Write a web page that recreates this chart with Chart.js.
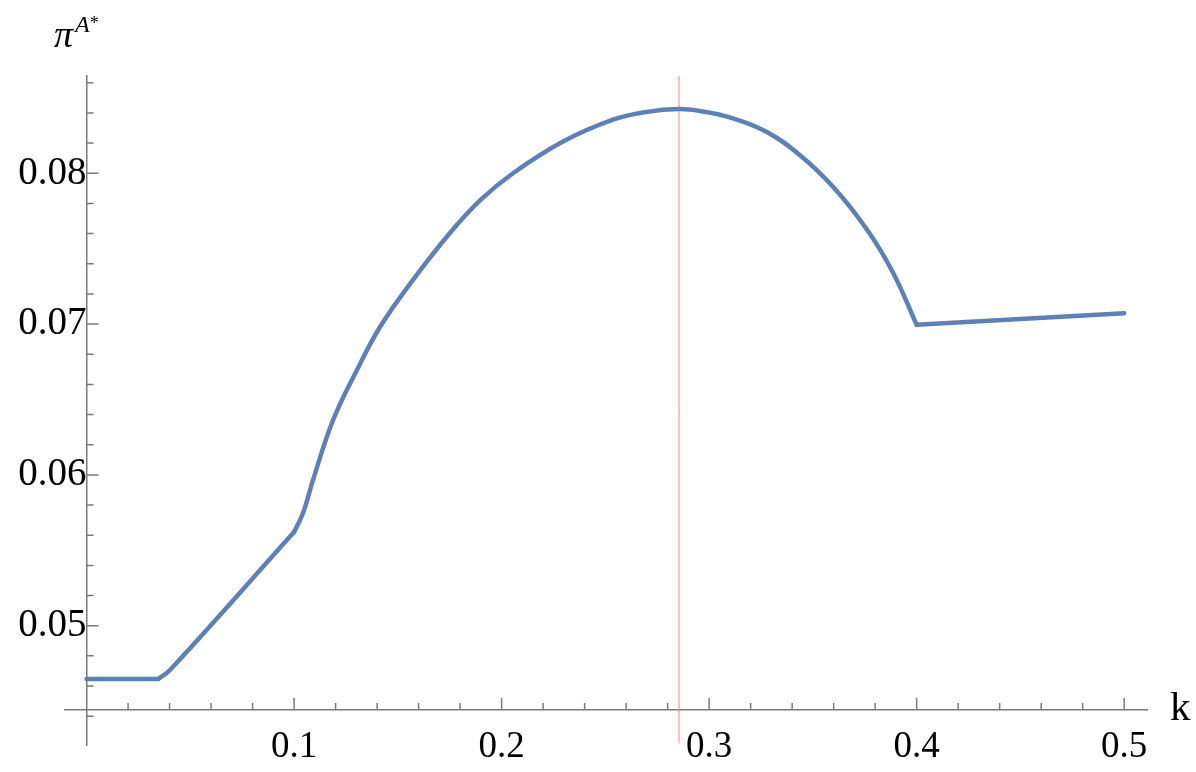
<!DOCTYPE html>
<html>
<head>
<meta charset="utf-8">
<script src="https://cdn.jsdelivr.net/npm/chart.js@4.4.1/dist/chart.umd.min.js"></script>
<style>
  html, body { margin: 0; padding: 0; background: #fff; }
  #wrap { position: relative; width: 1196px; height: 772px; }
  .lbl { position: absolute; font-family: "Liberation Serif", serif; color: #000; white-space: nowrap; }
  #ylab { left: 54px; top: 15px; font-size: 38px; line-height: 38px; font-style: italic; }
  #ylab .up { font-size: 24px; position: relative; top: -15px; margin-left: 2px; }
  #ylab .star { font-style: normal; font-size: 18px; position: relative; top: -3px; }
  #xlab { left: 1170px; top: 682px; font-size: 41px; }
</style>
</head>
<body>
<div id="wrap">
  <canvas id="myChart" width="1196" height="772"></canvas>
  <div class="lbl" id="ylab">π<span class="up">A<span class="star">*</span></span></div>
  <div class="lbl" id="xlab">k</div>
</div>
<script>
// curve
const kValues = [0, 0.0345, 0.0402, 0.1, 0.1043, 0.1092, 0.1188, 0.1303, 0.1414, 0.1573, 0.1751,
  0.1896, 0.2055, 0.2296, 0.2537, 0.2701, 0.2855, 0.2957, 0.31, 0.3278, 0.3438, 0.3598,
  0.3762, 0.3887, 0.4, 0.5];
const piValues = [0.04647, 0.04647, 0.04706, 0.05621, 0.05747, 0.0597, 0.06364, 0.06696, 0.06981, 0.07293, 0.07604,
  0.0782, 0.0800, 0.0821, 0.08355, 0.08407, 0.08426, 0.08413, 0.0837, 0.08274, 0.0812, 0.07909,
  0.07624, 0.07339, 0.06995, 0.07072];
// k values where the curve has a corner
const kinks = [0.0345, 0.1, 0.4];

// red marker line
const markK = [0.2855, 0.2855];
const markPi = [0.0422, 0.0865];

const xTicks = [0.1, 0.2, 0.3, 0.4, 0.5];
const xTickLabels = ["0.1", "0.2", "0.3", "0.4", "0.5"];
const xMinor = [0.02, 0.04, 0.06, 0.08, 0.12, 0.14, 0.16, 0.18, 0.22, 0.24, 0.26, 0.28,
  0.32, 0.34, 0.36, 0.38, 0.42, 0.44, 0.46, 0.48];
const yTicks = [0.05, 0.06, 0.07, 0.08];
const yTickLabels = ["0.05", "0.06", "0.07", "0.08"];
const yMinor = [0.044, 0.046, 0.048, 0.052, 0.054, 0.056, 0.058, 0.062, 0.064, 0.066, 0.068,
  0.072, 0.074, 0.076, 0.078, 0.082, 0.084, 0.086];

const xCross = 0;        // y axis sits at k = 0
const yCross = 0.04441;  // x axis sits here
const axisColor = "#7a7a7a";
const curveColor = "#5e81b5";

// split the curve at its corners so the spline doesn't round them off
const pieces = [];
let start = 0;
kinks.concat([kValues[kValues.length - 1]]).forEach(kk => {
  const end = kValues.indexOf(kk);
  pieces.push(kValues.slice(start, end + 1).map((k, i) => ({ x: k, y: piValues[start + i] })));
  start = end;
});

// Mathematica style ticks: pointing into the plot
const insideTicks = {
  id: "insideTicks",
  afterDraw(chart) {
    const { ctx, scales: { x, y } } = chart;
    const ax = x.getPixelForValue(xCross);
    const ay = y.getPixelForValue(yCross);
    ctx.save();
    ctx.strokeStyle = axisColor;
    ctx.lineWidth = 1.5;
    ctx.beginPath();
    xTicks.forEach(v => { const p = x.getPixelForValue(v); ctx.moveTo(p, ay); ctx.lineTo(p, ay - 12); });
    xMinor.forEach(v => { const p = x.getPixelForValue(v); ctx.moveTo(p, ay); ctx.lineTo(p, ay - 7); });
    yTicks.forEach(v => { const p = y.getPixelForValue(v); ctx.moveTo(ax, p); ctx.lineTo(ax + 12, p); });
    yMinor.forEach(v => { const p = y.getPixelForValue(v); ctx.moveTo(ax, p); ctx.lineTo(ax + 7, p); });
    ctx.stroke();
    ctx.restore();
  }
};

const curveSets = pieces.map(pts => ({
  data: pts,
  borderColor: curveColor,
  borderWidth: 4.5,
  borderJoinStyle: "round",
  borderCapStyle: "round",
  pointRadius: 0,
  tension: 0.4,
  fill: false,
}));

const ctx = document.getElementById("myChart");
new Chart(ctx, {
  type: "line",
  data: {
    datasets: curveSets.concat([
      {
        data: markK.map((k, i) => ({ x: k, y: markPi[i] })),
        borderColor: "#ff7f7f",
        borderWidth: 1,
        pointRadius: 0,
        fill: false,
      },
    ]),
  },
  options: {
    responsive: false,
    animation: false,
    layout: { padding: { left: 65, right: 49, top: 76, bottom: 27 } },
    plugins: {
      legend: { display: false },
      tooltip: { enabled: false },
    },
    scales: {
      x: {
        type: "linear",
        min: -0.0104,
        max: 0.511,
        position: { y: yCross },
        afterBuildTicks: (scale) => { scale.ticks = xTicks.map(v => ({ value: v })); },
        grid: { display: false, drawTicks: false },
        border: { display: true, color: axisColor, width: 1.5 },
        ticks: {
          padding: 15,
          color: "#000",
          font: { family: "Liberation Serif", size: 37 },
          maxRotation: 0,
          callback: (v, i) => xTickLabels[i],
        },
      },
      y: {
        type: "linear",
        min: 0.04209,
        max: 0.08645,
        position: { x: xCross },
        afterBuildTicks: (scale) => { scale.ticks = yTicks.map(v => ({ value: v })); },
        grid: { display: false, drawTicks: false },
        border: { display: true, color: axisColor, width: 1.5 },
        ticks: {
          padding: 13,
          color: "#000",
          font: { family: "Liberation Serif", size: 39, lineHeight: 0.6 },
          callback: (v, i) => yTickLabels[i],
        },
      },
    },
  },
  plugins: [insideTicks],
});
</script>
</body>
</html>
